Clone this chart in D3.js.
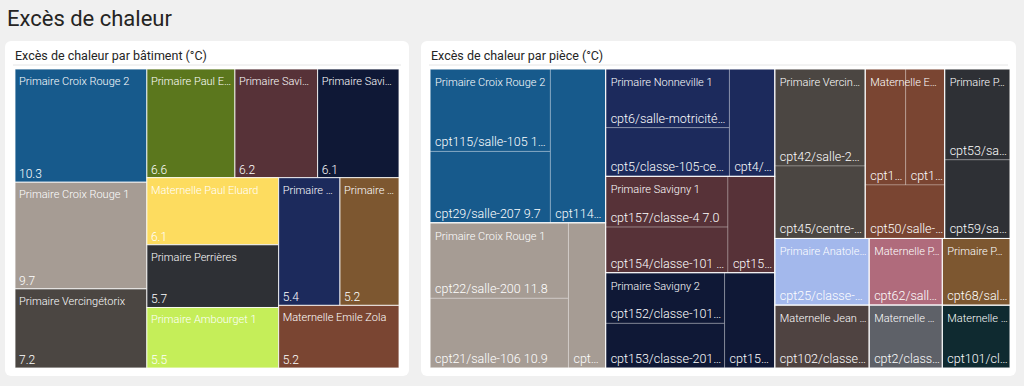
<!DOCTYPE html>
<html>
<head>
<meta charset="utf-8">
<script src="https://cdn.jsdelivr.net/npm/d3@7"></script>
<style>
  body { margin: 0; background: #f0f0f0; }
  text { font-family: Roboto, "Noto Sans", sans-serif; }
</style>
</head>
<body>
<svg width="1024" height="386"></svg>
<script>
// --- left chart: excess heat per building
const buildings = ["Primaire Croix Rouge 2", "Primaire Paul Eluard", "Primaire Savigny 1", "Primaire Savigny 2",
  "Primaire Croix Rouge 1", "Primaire Vercingétorix", "Maternelle Paul Eluard", "Primaire Perrières",
  "Primaire Ambourget 1", "Primaire Nonneville 1", "Primaire Pasteur", "Maternelle Emile Zola"];
const buildingValues = [10.3, 6.6, 6.2, 6.1, 9.7, 7.2, 6.1, 5.7, 5.5, 5.4, 5.2, 5.2];
const buildingColors = ["#175a8c", "#5b771d", "#573238", "#0f1836", "#a69c94", "#4b4642",
  "#fddc5f", "#2e3035", "#c5ee59", "#1c2a5c", "#7d5730", "#7a4532"];

// --- right chart: excess heat per room, grouped by building
const groups = ["Primaire Croix Rouge 2", "Primaire Croix Rouge 1", "Primaire Nonneville 1", "Primaire Savigny 1",
  "Primaire Savigny 2", "Primaire Vercingétorix", "Maternelle Emile Zola", "Primaire Perrières",
  "Primaire Anatole France", "Maternelle Jean Jaurès", "Maternelle Paul Eluard", "Maternelle Nonneville",
  "Primaire Pasteur", "Maternelle Ambourget"];
const groupColors = ["#175a8c", "#a69c94", "#1c2a5c", "#573238", "#0f1836", "#4b4642", "#7a4532", "#2e3035",
  "#a3b8ec", "#4f4341", "#b06b7c", "#5e6168", "#7d5730", "#0f2a30"];
const rooms = ["cpt115/salle-105", "cpt29/salle-207", "cpt114/salle-104",
  "cpt22/salle-200", "cpt21/salle-106", "cpt24/salle-107",
  "cpt6/salle-motricité", "cpt5/classe-105-ce2", "cpt4/classe-104",
  "cpt157/classe-4", "cpt154/classe-101", "cpt155/classe-3",
  "cpt152/classe-101", "cpt153/classe-201", "cpt151/classe-102",
  "cpt42/salle-203", "cpt45/centre-loisirs",
  "cpt10/dortoir", "cpt11/classe-2", "cpt50/salle-jeux",
  "cpt53/salle-12", "cpt59/salle-21",
  "cpt25/classe-cp", "cpt102/classe-2", "cpt62/salle-repos", "cpt2/classe-1", "cpt68/salle-5", "cpt101/classe-1"];
const roomGroups = [0, 0, 0, 1, 1, 1, 2, 2, 2, 3, 3, 3, 4, 4, 4, 5, 5, 6, 6, 6, 7, 7, 8, 9, 10, 11, 12, 13];
const roomValues = [11.2, 9.7, 9.6, 11.8, 10.9, 6.1, 8.2, 6.8, 5.5, 7.0, 6.3, 5.1, 6.8, 6.0, 5.4,
  9.9, 7.4, 5.3, 5.1, 4.8, 6.7, 5.8, 7.1, 6.7, 5.5, 5.2, 5.1, 4.8];

const svg = d3.select("svg");

// trim a label with an ellipsis until it fits
function fit(t, s, w) {
  t.text(s);
  let n = s.length;
  while (n > 0 && t.node().getComputedTextLength() > w) {
    n--;
    t.text(s.slice(0, n) + "…");
  }
}

function card(x, y, w, h, title) {
  svg.append("rect").attr("x", x).attr("y", y).attr("width", w).attr("height", h)
    .attr("rx", 6).attr("fill", "#fff");
  svg.append("text").attr("x", x + 10).attr("y", y + 19)
    .attr("font-size", 12.5).attr("fill", "#252525").text(title);
  svg.append("line").attr("x1", x + 8).attr("x2", x + w - 8).attr("y1", y + 24).attr("y2", y + 24)
    .attr("stroke", "#e6e6e6");
}

svg.append("text").attr("x", 7).attr("y", 26).attr("font-size", 22).attr("fill", "#252423")
  .text("Excès de chaleur");

card(5, 41, 404, 335, "Excès de chaleur par bâtiment (°C)");
card(421, 41, 595, 335, "Excès de chaleur par pièce (°C)");

// left treemap
const rootL = d3.hierarchy({children: buildings.map((b, i) => ({name: b, value: buildingValues[i], color: buildingColors[i]}))})
  .sum(d => d.value || 0)
  .sort((a, b) => b.value - a.value);
d3.treemap().size([384, 299]).tile(d3.treemapSquarify)(rootL);

const gl = svg.append("g").attr("transform", "translate(15,69)");
const cellL = gl.selectAll("g").data(rootL.leaves()).join("g")
  .attr("transform", d => `translate(${d.x0},${d.y0})`);
cellL.append("rect")
  .attr("width", d => d.x1 - d.x0).attr("height", d => d.y1 - d.y0)
  .attr("fill", d => d.data.color).attr("stroke", "#fff").attr("stroke-opacity", 0.8);
cellL.append("text").attr("x", 4).attr("y", 16).attr("font-size", 11).attr("font-weight", 300).attr("fill", "#fff")
  .each(function(d) { fit(d3.select(this), d.data.name, d.x1 - d.x0 - 7); });
cellL.append("text").attr("x", 4).attr("y", d => d.y1 - d.y0 - 4).attr("font-size", 12).attr("font-weight", 300).attr("fill", "#fff")
  .text(d => d3.format(".1f")(d.data.value));

// right treemap
const rootR = d3.hierarchy({children: groups.map((g, gi) => ({
    name: g, color: groupColors[gi],
    children: rooms.map((r, i) => ({name: r, value: roomValues[i], g: roomGroups[i]})).filter(r => r.g === gi)
  }))})
  .sum(d => d.value || 0)
  .sort((a, b) => b.value - a.value);
d3.treemap().size([580, 299]).tile(d3.treemapSquarify)(rootR);

const gr = svg.append("g").attr("transform", "translate(430,69)");
const leafR = gr.selectAll("g.leaf").data(rootR.leaves()).join("g").attr("class", "leaf")
  .attr("transform", d => `translate(${d.x0},${d.y0})`);
leafR.append("rect")
  .attr("width", d => d.x1 - d.x0).attr("height", d => d.y1 - d.y0)
  .attr("fill", d => d.parent.data.color).attr("stroke", "#fff").attr("stroke-opacity", 0.25);
leafR.append("text").attr("x", 5).attr("y", d => d.y1 - d.y0 - 5).attr("font-size", 12.5).attr("font-weight", 300).attr("fill", "#fff")
  .each(function(d) { fit(d3.select(this), d.data.name + " " + d3.format(".1f")(d.data.value), d.x1 - d.x0 - 6); });

const grpR = gr.selectAll("g.grp").data(rootR.children).join("g").attr("class", "grp")
  .attr("transform", d => `translate(${d.x0},${d.y0})`);
grpR.append("rect")
  .attr("width", d => d.x1 - d.x0).attr("height", d => d.y1 - d.y0)
  .attr("fill", "none").attr("stroke", "#fff").attr("stroke-opacity", 0.8);
grpR.append("text").attr("x", 5).attr("y", 17).attr("font-size", 11).attr("font-weight", 300).attr("fill", "#fff")
  .each(function(d) { fit(d3.select(this), d.data.name, d.x1 - d.x0 - 7); });
</script>
</body>
</html>
